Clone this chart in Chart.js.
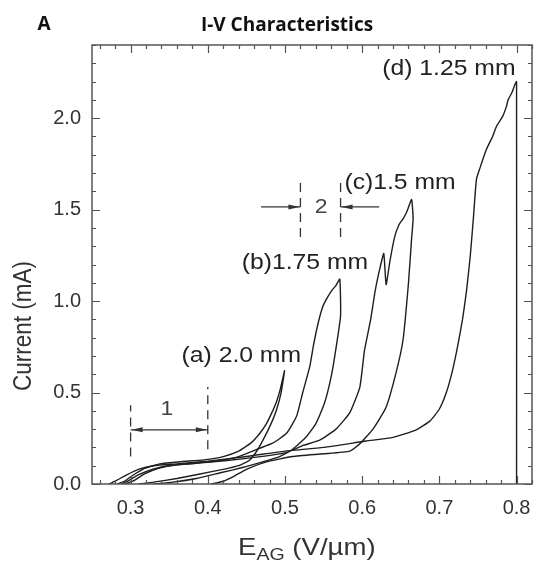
<!DOCTYPE html>
<html>
<head>
<meta charset="utf-8">
<script src="https://cdn.jsdelivr.net/npm/chart.js@4.4.1/dist/chart.umd.min.js"></script>
<style>
  html, body { margin: 0; padding: 0; background: #fff; }
  #wrap { width: 535px; height: 563px; }
</style>
</head>
<body>
<div id="wrap"><canvas id="ivChart" width="535" height="563"></canvas></div>
<script>
// I-V loops, E_AG in V/um against current in mA, one loop per anode-gate gap
const gapLabels = ['(a) 2.0 mm', '(b)1.75 mm', '(c)1.5 mm', '(d) 1.25 mm'];

const loopA_V = [0.283, 0.292, 0.302, 0.318, 0.338, 0.365, 0.395, 0.420, 0.440, 0.456, 0.467, 0.476, 0.483, 0.489, 0.494, 0.4995,
                 0.495, 0.489, 0.482, 0.474, 0.465, 0.454, 0.440, 0.420, 0.390, 0.360, 0.330, 0.310];
const loopA_I = [0.000, 0.015, 0.045, 0.085, 0.110, 0.122, 0.132, 0.150, 0.180, 0.225, 0.275, 0.330, 0.390, 0.450, 0.520, 0.620,
                 0.500, 0.405, 0.330, 0.260, 0.190, 0.130, 0.100, 0.080, 0.055, 0.030, 0.010, 0.000];

const loopB_V = [0.288, 0.298, 0.310, 0.328, 0.350, 0.380, 0.410, 0.440, 0.467, 0.484, 0.502, 0.515, 0.523, 0.532, 0.537, 0.543, 0.549, 0.555, 0.561, 0.566, 0.571,
                 0.572, 0.566, 0.560, 0.551, 0.540, 0.528, 0.510, 0.493, 0.470, 0.445, 0.415, 0.385, 0.355, 0.330];
const loopB_I = [0.000, 0.020, 0.050, 0.080, 0.100, 0.112, 0.125, 0.150, 0.195, 0.223, 0.277, 0.370, 0.500, 0.640, 0.760, 0.880, 0.970, 1.020, 1.060, 1.085, 1.120,
                 0.920, 0.740, 0.590, 0.440, 0.330, 0.260, 0.190, 0.150, 0.120, 0.090, 0.060, 0.030, 0.010, 0.000];

const loopC_V = [0.293, 0.305, 0.318, 0.335, 0.360, 0.400, 0.450, 0.500, 0.523, 0.545, 0.566, 0.584, 0.597, 0.603, 0.611, 0.617, 0.623, 0.628, 0.631, 0.636, 0.642, 0.648, 0.653, 0.658, 0.664,
                 0.666, 0.664, 0.660, 0.653, 0.644, 0.631, 0.614, 0.597, 0.584, 0.550, 0.510, 0.475, 0.450, 0.435, 0.420, 0.405];
const loopC_I = [0.000, 0.020, 0.055, 0.085, 0.105, 0.118, 0.140, 0.170, 0.210, 0.240, 0.300, 0.390, 0.530, 0.730, 0.900, 1.060, 1.180, 1.260, 1.090, 1.220, 1.350, 1.420, 1.450, 1.490, 1.555,
                 1.450, 1.340, 1.100, 0.790, 0.610, 0.420, 0.300, 0.220, 0.180, 0.165, 0.150, 0.120, 0.080, 0.045, 0.015, 0.000];

const loopD_V = [0.272, 0.282, 0.295, 0.310, 0.330, 0.360, 0.400, 0.450, 0.500, 0.550, 0.605, 0.640, 0.670, 0.688, 0.700, 0.709, 0.717, 0.724, 0.730, 0.735, 0.740, 0.744, 0.748,
                 0.752, 0.761, 0.769, 0.774, 0.782, 0.787, 0.789, 0.794, 0.798, 0.800, 0.800];
const loopD_I = [0.000, 0.020, 0.050, 0.080, 0.100, 0.110, 0.125, 0.150, 0.180, 0.200, 0.235, 0.255, 0.296, 0.345, 0.410, 0.500, 0.620, 0.760, 0.900, 1.050, 1.245, 1.450, 1.665,
                 1.720, 1.830, 1.900, 1.956, 2.010, 2.066, 2.100, 2.140, 2.185, 2.200, 0.000];

const xTicks = [0.3, 0.4, 0.5, 0.6, 0.7, 0.8];
const yTicks = [0.0, 0.5, 1.0, 1.5, 2.0];
const xMinorStep = 0.02;
const yMinorStep = 0.1;

// label anchors (left edge, vertical middle) in data units
const labelAt = [[0.366, 0.70], [0.444, 1.21], [0.577, 1.643], [0.626, 2.27]];

// the two spacing marks "1" and "2"
const spacing1 = { x0: 0.3, x1: 0.4, left: [0.15, 0.43], right: [0.19, 0.53], arrowY: 0.296, textAt: [0.347, 0.405] };
const spacing2 = { x0: 0.52, x1: 0.572, span: [1.35, 1.675], arrowY: 1.515, outer: [0.469, 0.622], textAt: [0.547, 1.51] };

const loops = [[loopA_V, loopA_I], [loopB_V, loopB_I], [loopC_V, loopC_I], [loopD_V, loopD_I]];

const STRETCH = 1.15;
const TXT = '#333';

function putText(ctx, str, px, py, size, align, bold) {
  ctx.save();
  ctx.translate(px, py);
  ctx.scale(STRETCH, 1);
  ctx.font = (bold ? 'bold ' : '') + size + 'px "Liberation Sans", Arial, sans-serif';
  ctx.textAlign = align;
  ctx.textBaseline = 'middle';
  ctx.fillText(str, 0, 0);
  ctx.restore();
}

function arrowHead(ctx, tipX, tipY, dir) {
  ctx.beginPath();
  ctx.moveTo(tipX, tipY);
  ctx.lineTo(tipX - dir * 11, tipY - 2.5);
  ctx.lineTo(tipX - dir * 11, tipY + 2.5);
  ctx.closePath();
  ctx.fill();
}

const frameAndNotes = {
  id: 'frameAndNotes',
  afterDatasetsDraw(chart) {
    const { ctx, chartArea: a, scales: { x, y } } = chart;
    ctx.save();

    // frame
    ctx.strokeStyle = '#555';
    ctx.lineWidth = 1.5;
    ctx.strokeRect(a.left, a.top, a.right - a.left, a.bottom - a.top);

    // inward ticks on all four sides
    ctx.lineWidth = 1.2;
    ctx.beginPath();
    for (let v = 0.26; v <= x.max + 1e-9; v += xMinorStep) {
      const px = Math.round(x.getPixelForValue(v)) + 0.5;
      const major = xTicks.some(t => Math.abs(t - v) < 1e-6);
      const len = major ? 8 : 4;
      ctx.moveTo(px, a.bottom); ctx.lineTo(px, a.bottom - len);
      ctx.moveTo(px, a.top); ctx.lineTo(px, a.top + len);
    }
    for (let v = 0; v <= y.max + 1e-9; v += yMinorStep) {
      const py = Math.round(y.getPixelForValue(v)) + 0.5;
      const major = yTicks.some(t => Math.abs(t - v) < 1e-6);
      const len = major ? 8 : 4;
      ctx.moveTo(a.left, py); ctx.lineTo(a.left + len, py);
      ctx.moveTo(a.right, py); ctx.lineTo(a.right - len, py);
    }
    ctx.stroke();

    // spacing mark 1
    ctx.strokeStyle = '#333';
    ctx.fillStyle = '#333';
    ctx.lineWidth = 1.3;
    ctx.setLineDash([9, 6]);
    ctx.beginPath();
    ctx.moveTo(x.getPixelForValue(spacing1.x0), y.getPixelForValue(spacing1.left[0]));
    ctx.lineTo(x.getPixelForValue(spacing1.x0), y.getPixelForValue(spacing1.left[1]));
    ctx.moveTo(x.getPixelForValue(spacing1.x1), y.getPixelForValue(spacing1.right[0]));
    ctx.lineTo(x.getPixelForValue(spacing1.x1), y.getPixelForValue(spacing1.right[1]));
    // spacing mark 2
    ctx.moveTo(x.getPixelForValue(spacing2.x0), y.getPixelForValue(spacing2.span[0]));
    ctx.lineTo(x.getPixelForValue(spacing2.x0), y.getPixelForValue(spacing2.span[1]));
    ctx.moveTo(x.getPixelForValue(spacing2.x1), y.getPixelForValue(spacing2.span[0]));
    ctx.lineTo(x.getPixelForValue(spacing2.x1), y.getPixelForValue(spacing2.span[1]));
    ctx.stroke();
    ctx.setLineDash([]);

    let ay = y.getPixelForValue(spacing1.arrowY);
    let l = x.getPixelForValue(spacing1.x0), r = x.getPixelForValue(spacing1.x1);
    ctx.beginPath();
    ctx.moveTo(l, ay); ctx.lineTo(r, ay);
    ctx.stroke();
    arrowHead(ctx, l + 1, ay, -1);
    arrowHead(ctx, r - 1, ay, 1);

    ay = y.getPixelForValue(spacing2.arrowY);
    l = x.getPixelForValue(spacing2.x0); r = x.getPixelForValue(spacing2.x1);
    ctx.beginPath();
    ctx.moveTo(x.getPixelForValue(spacing2.outer[0]), ay); ctx.lineTo(l, ay);
    ctx.moveTo(r, ay); ctx.lineTo(x.getPixelForValue(spacing2.outer[1]), ay);
    ctx.stroke();
    arrowHead(ctx, l - 1, ay, 1);
    arrowHead(ctx, r + 1, ay, -1);

    ctx.fillStyle = '#444';
    putText(ctx, '1', x.getPixelForValue(spacing1.textAt[0]), y.getPixelForValue(spacing1.textAt[1]), 20, 'center');
    putText(ctx, '2', x.getPixelForValue(spacing2.textAt[0]), y.getPixelForValue(spacing2.textAt[1]), 20, 'center');

    // curve labels
    ctx.fillStyle = '#222';
    gapLabels.forEach((txt, i) => {
      putText(ctx, txt, x.getPixelForValue(labelAt[i][0]), y.getPixelForValue(labelAt[i][1]), 21.5, 'left');
    });

    ctx.restore();
  },
  afterDraw(chart) {
    const { ctx } = chart;
    ctx.save();
    ctx.fillStyle = '#111';
    ctx.textBaseline = 'middle';
    ctx.textAlign = 'center';
    ctx.font = 'bold 19px "Open Sans", sans-serif';
    ctx.fillText('I-V Characteristics', 287, 26);
    ctx.fillText('A', 44, 25);

    // y axis title
    ctx.fillStyle = TXT;
    ctx.save();
    ctx.translate(24, 326);
    ctx.scale(STRETCH, 1);
    ctx.rotate(-Math.PI / 2);
    ctx.font = '22.5px "Liberation Sans", Arial, sans-serif';
    ctx.textAlign = 'center';
    ctx.fillText('Current (mA)', 0, 0);
    ctx.restore();

    // x axis title with subscript
    ctx.save();
    ctx.translate(238, 547);
    ctx.scale(STRETCH, 1);
    ctx.textAlign = 'left';
    ctx.textBaseline = 'alphabetic';
    ctx.font = '24px "Liberation Sans", Arial, sans-serif';
    ctx.fillText('E', 0, 8);
    let w = ctx.measureText('E').width;
    ctx.font = '17px "Liberation Sans", Arial, sans-serif';
    ctx.fillText('AG', w, 13);
    w += ctx.measureText('AG').width;
    ctx.font = '24px "Liberation Sans", Arial, sans-serif';
    ctx.fillText(' (V/\u00b5m)', w, 8);
    ctx.restore();

    ctx.restore();
  }
};

const datasets = loops.map(([vs, is], i) => ({
  label: gapLabels[i],
  data: vs.map((v, k) => ({ x: v, y: is[k] })),
  showLine: true,
  borderColor: '#1e1e1e',
  borderWidth: 1.4,
  pointRadius: 0,
  tension: 0.15
}));

new Chart(document.getElementById('ivChart'), {
  type: 'scatter',
  data: { datasets },
  options: {
    responsive: false,
    animation: false,
    devicePixelRatio: 1,
    layout: { padding: { top: 45, right: 3, left: 0, bottom: 0 } },
    plugins: { legend: { display: false }, tooltip: { enabled: false } },
    scales: {
      x: {
        type: 'linear',
        min: 0.25,
        max: 0.82,
        afterBuildTicks: s => { s.ticks = xTicks.map(v => ({ value: v })); },
        afterFit: s => { s.height = 79; s.paddingLeft = 0; s.paddingRight = 0; },
        grid: { display: false, drawTicks: false },
        border: { display: false },
        ticks: {
          padding: 12,
          color: TXT,
          font: { family: '"Liberation Sans", Arial, sans-serif', size: 20 },
          callback: v => v.toFixed(1)
        }
      },
      y: {
        type: 'linear',
        min: 0,
        max: 2.4,
        afterBuildTicks: s => { s.ticks = yTicks.map(v => ({ value: v })); },
        afterFit: s => { s.width = 92; s.paddingTop = 0; s.paddingBottom = 0; },
        grid: { display: false, drawTicks: false },
        border: { display: false },
        ticks: {
          padding: 11,
          color: TXT,
          font: { family: '"Liberation Sans", Arial, sans-serif', size: 20 },
          callback: v => v.toFixed(1)
        }
      }
    }
  },
  plugins: [frameAndNotes]
});
</script>
</body>
</html>
